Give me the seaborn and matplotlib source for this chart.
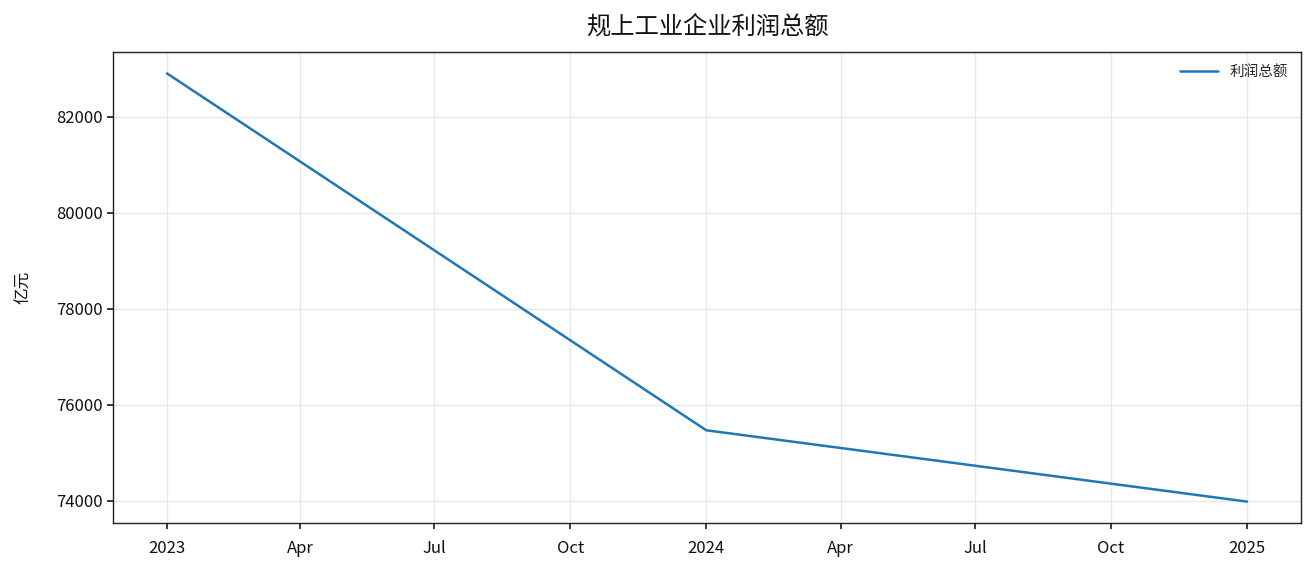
import matplotlib
matplotlib.use("Agg")
import matplotlib.pyplot as plt
import matplotlib.dates as mdates
import seaborn as sns
import pandas as pd

dates = ["2023-01-01", "2024-01-01", "2025-01-01"]
profit = [82900, 75470, 73985]
series_name = "利润总额"

sns.set_theme(style="white")
plt.rcParams['font.family'] = ['Noto Sans CJK SC', 'DejaVu Sans']
plt.rcParams['axes.unicode_minus'] = False

df = pd.DataFrame({"date": pd.to_datetime(dates), "value": profit})

fig = plt.figure(figsize=(13.16, 5.73), dpi=100)
ax = fig.add_axes([113/1316, 1-523/573, (1301-113)/1316, (523-52)/573])
sns.lineplot(data=df, x="date", y="value", ax=ax, color="#1f77b4", linewidth=1.8, label=series_name)

ax.set_title("规上工业企业利润总额", fontsize=17.5, pad=13, color="#111111")
ax.set_ylabel("亿元", fontsize=12, labelpad=17, color="#111111")
ax.set_xlabel("")
ax.grid(True, color="#e8e8e8", linewidth=1)
for s in ax.spines.values():
    s.set_color("#222222")
    s.set_linewidth(1.0)
ax.tick_params(axis="both", labelsize=12, length=4, color="#222222", labelcolor="#111111", left=True, bottom=True)
ax.tick_params(axis="x", pad=8)
ax.xaxis.set_major_locator(mdates.MonthLocator(bymonth=[1, 4, 7, 10]))
def fmt(x, pos):
    d = mdates.num2date(x)
    return str(d.year) if d.month == 1 else d.strftime("%b")
ax.xaxis.set_major_formatter(plt.FuncFormatter(fmt))
ax.set_yticks([74000, 76000, 78000, 80000, 82000])
ax.margins(x=0.05, y=0.05)
leg = ax.legend(loc="upper right", frameon=False, fontsize=10.5, handlelength=2.6)
fig.savefig("out.png", dpi=100)
